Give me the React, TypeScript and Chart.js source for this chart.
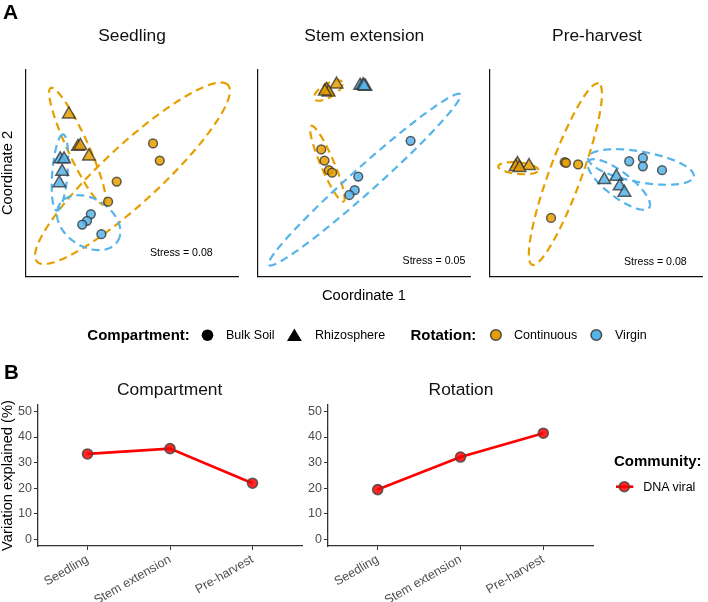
import React, { useEffect, useRef } from 'react';
import { Chart, registerables } from 'chart.js';

Chart.register(...registerables);

const FONT = '"Liberation Sans", Arial, Helvetica, sans-serif';
Chart.defaults.font.family = FONT;

// ---------- Panel A data (NMDS coordinates, arbitrary units) ----------
const seedlingContRhizo = [[45, 169.5], [54.5, 135.5], [57, 136.5], [66, 125.5]];
const seedlingVirgRhizo = [[36, 122.5], [40, 122.5], [38, 109.5], [35, 97.5]];
const seedlingContBulk = [[133, 139], [140, 121], [95, 99], [86, 78]];
const seedlingVirgBulk = [[68, 65], [64, 58], [59, 54], [79, 44]];
// [rotation, centre x, centre y, semi-major, semi-minor, angle (deg)]
const seedlingEllipses = [
  ['Continuous', 111.5, 107.7, 136, 30, 42.8],
  ['Continuous', 54, 136, 67, 11, -65.4],
  ['Virgin', 35.7, 108.5, 40, 8, 85.3],
  ['Virgin', 65.7, 56, 36, 25, -33],
];

const stemContRhizo = [[82.3, 200.8], [71.7, 195.2], [74, 192.5], [70, 193.5]];
const stemVirgRhizo = [[107, 199.5], [110, 200], [112.5, 198.5], [111, 199]];
const stemContBulk = [[66.3, 132.7], [69.7, 121], [74.3, 111], [77.7, 108.3]];
const stemVirgBulk = [[159.7, 141.7], [105, 104.3], [101.3, 90], [95.7, 85]];
const stemEllipses = [
  ['Continuous', 73.7, 194.3, 17, 7, 31.5],
  ['Continuous', 72.7, 117.7, 43, 7, -67],
  ['Virgin', 111.5, 101, 134, 13, 41.8],
];

const preContRhizo = [[29, 117.5], [41, 115.5], [27, 114.5], [31, 113.5]];
const preVirgRhizo = [[119.7, 100.8], [132.3, 104.2], [135.7, 94.2], [140.7, 87.5]];
const preContBulk = [[78.3, 119.3], [79.7, 118.7], [92.3, 117], [64, 61]];
const preVirgBulk = [[145.7, 120.3], [160, 123.7], [160, 115], [180, 111]];
const preEllipses = [
  ['Continuous', 29.8, 113, 21, 6, -5.5],
  ['Continuous', 79, 106.8, 101, 17, 69.9],
  ['Virgin', 158, 114.3, 56, 16, -10.2],
  ['Virgin', 134.8, 96, 40, 13, -37.6],
];

const stressLabels = ['Stress = 0.08', 'Stress = 0.05', 'Stress = 0.08'];
const panelTitles = ['Seedling', 'Stem extension', 'Pre-harvest'];

// ---------- Panel B data ----------
const stages = ['Seedling', 'Stem extension', 'Pre-harvest'];
const compartmentVariation = [33.4, 35.5, 22.0];
const rotationVariation = [19.5, 32.2, 41.5];
const yTickValues = [0, 10, 20, 30, 40, 50];

// ---------- styles ----------
const ORANGE = '#E69F00';
const BLUE = '#56B4E9';
const ORANGE_FILL = 'rgba(230,159,0,0.85)';
const BLUE_FILL = 'rgba(86,180,233,0.85)';
const POINT_BORDER = 'rgba(45,45,45,0.75)';

const ellipsePlugin = {
  id: 'ellipses',
  beforeDatasetsDraw(chart: any, _args: any, opts: any) {
    const items = (opts && opts.items) || [];
    const xs = chart.scales.x;
    const ys = chart.scales.y;
    const ctx = chart.ctx;
    ctx.save();
    for (const e of items) {
      const [group, cx, cy, a, b, ang] = e;
      const th = (ang * Math.PI) / 180;
      ctx.beginPath();
      const n = 160;
      for (let i = 0; i <= n; i++) {
        const t = (i / n) * Math.PI * 2;
        const dx = a * Math.cos(t);
        const dy = b * Math.sin(t);
        const X = cx + dx * Math.cos(th) - dy * Math.sin(th);
        const Y = cy + dx * Math.sin(th) + dy * Math.cos(th);
        const px = xs.getPixelForValue(X);
        const py = ys.getPixelForValue(Y);
        if (i === 0) ctx.moveTo(px, py);
        else ctx.lineTo(px, py);
      }
      ctx.closePath();
      ctx.strokeStyle = group === 'Continuous' ? ORANGE : BLUE;
      ctx.lineWidth = 2.2;
      ctx.setLineDash([8, 5]);
      ctx.stroke();
    }
    ctx.restore();
  },
};

function pointSet(pts: number[][], rotation: string, compartment: string) {
  const tri = compartment === 'Rhizosphere';
  return {
    label: rotation + ' ' + compartment,
    data: pts.map(([x, y]) => ({ x, y })),
    pointStyle: tri ? 'triangle' : 'circle',
    pointRadius: tri ? 7.3 : 4.4,
    backgroundColor: rotation === 'Continuous' ? ORANGE_FILL : BLUE_FILL,
    borderColor: POINT_BORDER,
    borderWidth: 1.5,
  };
}

const hiddenAxis = (max: number, horizontal: boolean) => ({
  type: 'linear',
  min: 0,
  max,
  ticks: { display: false },
  grid: { display: true, drawOnChartArea: false, drawTicks: false, color: '#000' },
  border: { display: true, color: '#111', width: 1.2 },
  afterFit: (s: any) => {
    if (horizontal) s.height = 0;
    else s.width = 0;
  },
});

function NmdsPanel(props: { left: number; groups: any[]; ellipses: any[] }) {
  const ref = useRef<HTMLCanvasElement>(null);
  useEffect(() => {
    const chart = new Chart(ref.current as HTMLCanvasElement, {
      type: 'scatter',
      data: { datasets: props.groups as any },
      options: {
        animation: false,
        responsive: false,
        layout: { padding: 4 },
        plugins: {
          legend: { display: false },
          tooltip: { enabled: false },
          ellipses: { items: props.ellipses },
        } as any,
        scales: {
          x: hiddenAxis(222, true) as any,
          y: hiddenAxis(216, false) as any,
        },
      },
      plugins: [ellipsePlugin],
    });
    return () => chart.destroy();
  }, []);
  return (
    <canvas
      ref={ref}
      width={230}
      height={224}
      style={{ position: 'absolute', left: props.left, top: 61, width: 230, height: 224 }}
    />
  );
}

function LinePanel(props: { left: number; values: number[]; padRight: number }) {
  const ref = useRef<HTMLCanvasElement>(null);
  useEffect(() => {
    const axisGrid = { display: true, drawOnChartArea: false, drawTicks: true, tickLength: 4, color: '#333', lineWidth: 1 };
    const axisBorder = { display: true, color: '#333', width: 1.3 };
    const chart = new Chart(ref.current as HTMLCanvasElement, {
      type: 'line',
      data: {
        datasets: [
          {
            label: 'DNA viral',
            data: props.values.map((v, i) => ({ x: i + 1, y: v })),
            borderColor: '#ff0000',
            borderWidth: 2.7,
            pointRadius: 5,
            pointBackgroundColor: 'rgba(255,0,0,0.85)',
            pointBorderColor: 'rgba(70,70,70,0.85)',
            pointBorderWidth: 1.6,
            tension: 0,
          },
        ],
      },
      options: {
        animation: false,
        responsive: false,
        layout: { padding: { left: 8, top: 10, right: props.padRight, bottom: 0 } },
        plugins: { legend: { display: false }, tooltip: { enabled: false } },
        scales: {
          x: {
            type: 'linear',
            min: 0.4,
            max: 3.6,
            afterBuildTicks: (s: any) => {
              s.ticks = stages.map((_, i) => ({ value: i + 1 }));
            },
            ticks: {
              callback: (_v: any, i: number) => stages[i],
              minRotation: 30,
              maxRotation: 30,
              autoSkip: false,
              color: '#4d4d4d',
              font: { size: 12.5 },
              padding: 2,
            },
            grid: axisGrid,
            border: axisBorder,
            afterFit: (s: any) => {
              s.height = 56;
            },
          } as any,
          y: {
            type: 'linear',
            min: -2.5,
            max: 52.5,
            afterBuildTicks: (s: any) => {
              s.ticks = yTickValues.map((v) => ({ value: v }));
            },
            ticks: { color: '#4d4d4d', font: { size: 12.5 }, padding: 2 },
            grid: axisGrid,
            border: axisBorder,
            afterFit: (s: any) => {
              s.width = 30;
            },
          } as any,
        },
      },
    });
    return () => chart.destroy();
  }, []);
  return (
    <canvas
      ref={ref}
      width={310}
      height={207}
      style={{ position: 'absolute', left: props.left, top: 395, width: 310, height: 207 }}
    />
  );
}

// SVG text; y is the visual (cap) centre, converted to a baseline
function T(props: {
  x: number;
  y: number;
  size: number;
  anchor?: 'start' | 'middle' | 'end';
  bold?: boolean;
  rotate?: boolean;
  color?: string;
  children: React.ReactNode;
}) {
  const off = 0.358 * props.size;
  const common = {
    fontFamily: FONT,
    fontSize: props.size,
    fontWeight: props.bold ? 700 : 400,
    fill: props.color || '#111',
    textAnchor: props.anchor || 'middle',
  } as any;
  if (props.rotate) {
    const bx = props.x + off;
    return (
      <text x={bx} y={props.y} transform={`rotate(-90 ${bx} ${props.y})`} {...common}>
        {props.children}
      </text>
    );
  }
  return (
    <text x={props.x} y={props.y + off} {...common}>
      {props.children}
    </text>
  );
}

export default function App() {
  const panelLefts = [17, 249, 481];
  const titleCenters = [132, 364.3, 597];
  const stressPos = [
    [212.7, 252.7],
    [465.3, 260],
    [686.7, 261.5],
  ];
  const groups = [
    [
      pointSet(seedlingContBulk, 'Continuous', 'Bulk Soil'),
      pointSet(seedlingVirgBulk, 'Virgin', 'Bulk Soil'),
      pointSet(seedlingContRhizo, 'Continuous', 'Rhizosphere'),
      pointSet(seedlingVirgRhizo, 'Virgin', 'Rhizosphere'),
    ],
    [
      pointSet(stemContBulk, 'Continuous', 'Bulk Soil'),
      pointSet(stemVirgBulk, 'Virgin', 'Bulk Soil'),
      pointSet(stemContRhizo, 'Continuous', 'Rhizosphere'),
      pointSet(stemVirgRhizo, 'Virgin', 'Rhizosphere'),
    ],
    [
      pointSet(preContBulk, 'Continuous', 'Bulk Soil'),
      pointSet(preVirgBulk, 'Virgin', 'Bulk Soil'),
      pointSet(preContRhizo, 'Continuous', 'Rhizosphere'),
      pointSet(preVirgRhizo, 'Virgin', 'Rhizosphere'),
    ],
  ];
  const ellipses = [seedlingEllipses, stemEllipses, preEllipses];

  return (
    <div
      style={{
        position: 'fixed',
        left: 0,
        top: 0,
        width: 708,
        height: 602,
        background: '#fff',
        overflow: 'hidden',
        fontFamily: FONT,
      }}
    >
      {panelLefts.map((l, i) => (
        <NmdsPanel key={i} left={l} groups={groups[i]} ellipses={ellipses[i]} />
      ))}
      <LinePanel left={0} values={compartmentVariation} padRight={8} />
      <LinePanel left={290} values={rotationVariation} padRight={7} />

      <svg
        style={{ position: 'absolute', left: 0, top: 0, pointerEvents: 'none' }}
        width={708}
        height={602}
      >
        {/* Panel A legend glyphs */}
        <circle cx={207.5} cy={335.2} r={5.8} fill="#000" />
        <polygon points="294.4,328.5 287,341 301.8,341" fill="#000" />
        <circle cx={495.9} cy={335} r={5.3} fill={ORANGE} stroke="#4a4a4a" strokeWidth={1.5} />
        <circle cx={596.3} cy={335} r={5.3} fill={BLUE} stroke="#4a4a4a" strokeWidth={1.5} />
        {/* Panel B legend glyph */}
        <line x1={616} y1={486.7} x2={633.3} y2={486.7} stroke="#ff0000" strokeWidth={2.7} />
        <circle cx={624.3} cy={486.7} r={5} fill="rgba(255,0,0,0.85)" stroke="rgba(70,70,70,0.85)" strokeWidth={1.6} />

        <T x={3} y={11} size={21} bold anchor="start" color="#000">A</T>
        <T x={4} y={371.5} size={20.5} bold anchor="start" color="#000">B</T>

        {panelTitles.map((t, i) => (
          <T key={'t' + i} x={titleCenters[i]} y={35} size={17.4}>{t}</T>
        ))}
        {stressLabels.map((t, i) => (
          <T key={'s' + i} x={stressPos[i][0]} y={stressPos[i][1]} size={10.6} anchor="end" color="#000">{t}</T>
        ))}
        <T x={6.8} y={173} size={14.7} rotate color="#000">Coordinate 2</T>
        <T x={364} y={295} size={14.7} color="#000">Coordinate 1</T>

        <T x={87.3} y={335} size={15} bold anchor="start" color="#000">Compartment:</T>
        <T x={226} y={335} size={12.5} anchor="start" color="#000">Bulk Soil</T>
        <T x={315} y={335} size={12.5} anchor="start" color="#000">Rhizosphere</T>
        <T x={410.5} y={335} size={15} bold anchor="start" color="#000">Rotation:</T>
        <T x={514} y={335} size={12.5} anchor="start" color="#000">Continuous</T>
        <T x={615} y={335} size={12.5} anchor="start" color="#000">Virgin</T>

        <T x={169.7} y={388.5} size={17.4}>Compartment</T>
        <T x={461} y={388.5} size={17.4}>Rotation</T>
        <T x={6.8} y={475.5} size={14.7} rotate color="#000">Variation explained (%)</T>

        <T x={614} y={461} size={15} bold anchor="start" color="#000">Community:</T>
        <T x={643.3} y={486.7} size={12.5} anchor="start" color="#000">DNA viral</T>
      </svg>
    </div>
  );
}
